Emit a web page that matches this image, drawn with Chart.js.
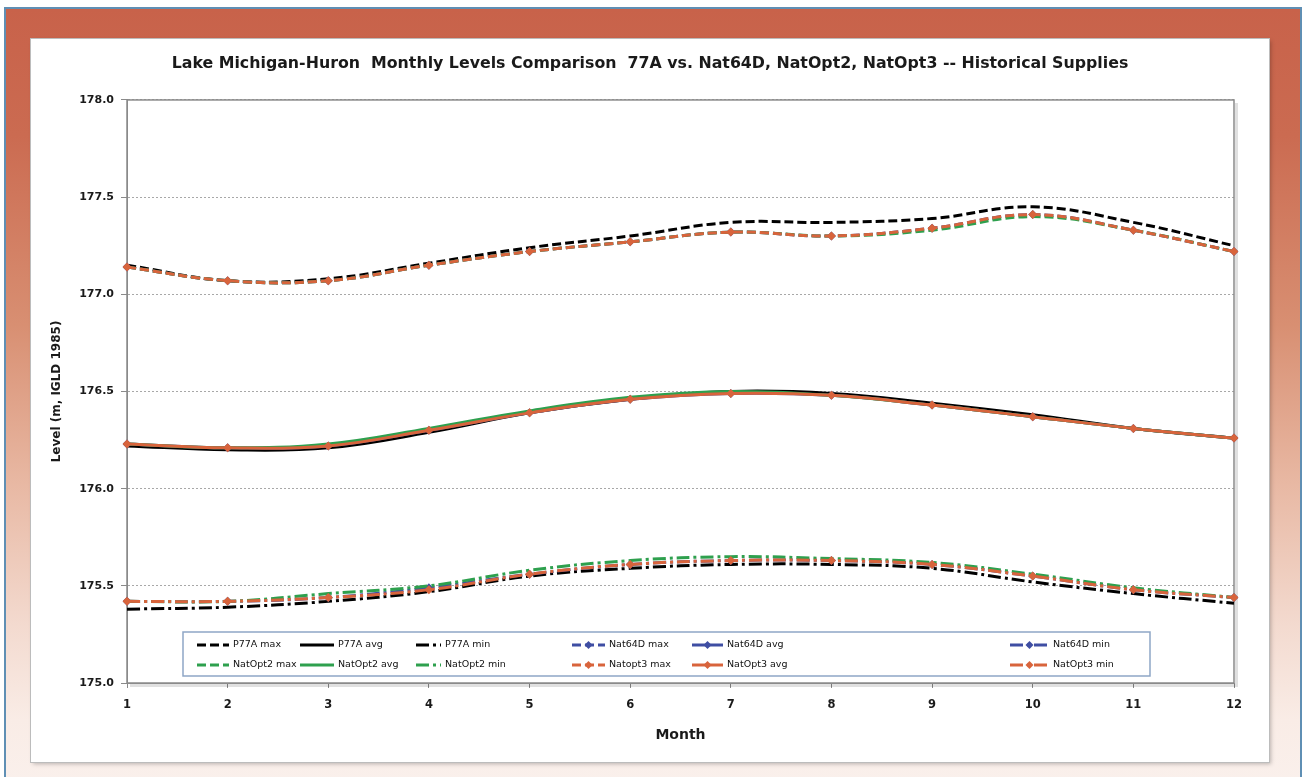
<!DOCTYPE html>
<html>
<head>
<meta charset="utf-8">
<script src="https://cdn.jsdelivr.net/npm/chart.js@4.4.0/dist/chart.umd.min.js"></script>
<style>
  html, body { margin: 0; padding: 0; background: #fff; width: 1304px; height: 777px; overflow: hidden; }
  #frame {
    position: absolute; left: 4px; top: 7px; width: 1294px; height: 790px;
    border: 2px solid #5f8fb4;
    background: linear-gradient(180deg, #c8624a 0%, #cb6b51 16%, #d88f72 40%, #e8b8a3 60%, #f3dacf 78%, #f9ece6 90%, #faf1ed 100%);
  }
  #panel {
    position: absolute; left: 31px; top: 39px; width: 1238px; height: 723px;
    background: #fff; outline: 1px solid #bcbcbc;
    box-shadow: 2px 2px 4px rgba(0,0,0,0.25);
  }
  canvas { display: block; }
</style>
</head>
<body>
<div id="frame"></div>
<div id="panel"><canvas id="levelsChart" width="1238" height="723"></canvas></div>
<script>
// months on the x axis
const months = ["1", "2", "3", "4", "5", "6", "7", "8", "9", "10", "11", "12"];

// lake levels (m, IGLD 1985)
const p77aMax   = [177.15, 177.07, 177.08, 177.16, 177.24, 177.30, 177.37, 177.37, 177.39, 177.45, 177.37, 177.25];
const p77aAvg   = [176.22, 176.20, 176.21, 176.29, 176.39, 176.46, 176.50, 176.49, 176.44, 176.38, 176.31, 176.26];
const p77aMin   = [175.38, 175.39, 175.42, 175.47, 175.55, 175.59, 175.61, 175.61, 175.59, 175.52, 175.46, 175.41];

const nat64dMax = [177.14, 177.07, 177.07, 177.15, 177.22, 177.27, 177.32, 177.30, 177.34, 177.41, 177.33, 177.22];
const nat64dAvg = [176.23, 176.21, 176.22, 176.30, 176.39, 176.46, 176.49, 176.48, 176.43, 176.37, 176.31, 176.26];
const nat64dMin = [175.42, 175.42, 175.44, 175.49, 175.56, 175.61, 175.63, 175.63, 175.61, 175.55, 175.48, 175.44];

const natOpt2Max = [177.14, 177.07, 177.07, 177.15, 177.22, 177.27, 177.32, 177.30, 177.33, 177.40, 177.33, 177.22];
const natOpt2Avg = [176.23, 176.21, 176.23, 176.31, 176.40, 176.47, 176.50, 176.48, 176.43, 176.37, 176.31, 176.26];
const natOpt2Min = [175.42, 175.42, 175.46, 175.50, 175.58, 175.63, 175.65, 175.64, 175.62, 175.56, 175.49, 175.44];

const natOpt3Max = [177.14, 177.07, 177.07, 177.15, 177.22, 177.27, 177.32, 177.30, 177.34, 177.41, 177.33, 177.22];
const natOpt3Avg = [176.23, 176.21, 176.22, 176.30, 176.39, 176.46, 176.49, 176.48, 176.43, 176.37, 176.31, 176.26];
const natOpt3Min = [175.42, 175.42, 175.44, 175.48, 175.56, 175.61, 175.63, 175.63, 175.61, 175.55, 175.48, 175.44];

// y axis range
const yMin = 175.0;
const yMax = 178.0;
const yStep = 0.5;

const BLACK = "#000000";
const BLUE = "#3f4ea3";
const GREEN = "#2ea04e";
const ORANGE = "#d8643c";

const DASH_MAX = [9, 4];
const DASH_MIN = [13, 4, 3, 4];

// label, data, colour, dash, marker
const series = [
    ["P77A max", p77aMax, BLACK, DASH_MAX, false],
    ["P77A avg", p77aAvg, BLACK, [], false],
    ["P77A min", p77aMin, BLACK, DASH_MIN, false],
    ["Nat64D max", nat64dMax, BLUE, DASH_MAX, true],
    ["Nat64D avg", nat64dAvg, BLUE, [], true],
    ["Nat64D min", nat64dMin, BLUE, DASH_MIN, true],
    ["NatOpt2 max", natOpt2Max, GREEN, DASH_MAX, false],
    ["NatOpt2 avg", natOpt2Avg, GREEN, [], false],
    ["NatOpt2 min", natOpt2Min, GREEN, DASH_MIN, false],
    ["Natopt3 max", natOpt3Max, ORANGE, DASH_MAX, true],
    ["NatOpt3 avg", natOpt3Avg, ORANGE, [], true],
    ["NatOpt3 min", natOpt3Min, ORANGE, DASH_MIN, true]
];

const datasets = series.map(([label, data, color, dash, marker], i) => ({
    label: label,
    data: data,
    borderColor: color,
    backgroundColor: color,
    borderWidth: 3,
    borderDash: dash,
    tension: 0.4,
    fill: false,
    pointStyle: "rectRot",
    pointRadius: marker ? 4.5 : 0,
    pointBorderWidth: 0,
    pointBackgroundColor: color,
    order: series.length - 1 - i   // later series on top, like Excel
}));

// gray frame around the plot area with a little shadow
const plotFrame = {
    id: "plotFrame",
    beforeDatasetsDraw(chart) {
        const { ctx, chartArea: a } = chart;
        ctx.save();
        ctx.strokeStyle = "rgba(0,0,0,0.12)";
        ctx.lineWidth = 3;
        ctx.beginPath();
        ctx.moveTo(a.right + 2.5, a.top + 3);
        ctx.lineTo(a.right + 2.5, a.bottom + 2.5);
        ctx.lineTo(a.left + 3, a.bottom + 2.5);
        ctx.stroke();
        ctx.strokeStyle = "#8a8a8a";
        ctx.lineWidth = 1.5;
        ctx.strokeRect(a.left, a.top, a.right - a.left, a.bottom - a.top);
        ctx.restore();
    }
};

// boxed legend inside the plot, two rows of six like the original
const boxLegend = {
    id: "boxLegend",
    afterDraw(chart, args, opts) {
        const { ctx, chartArea: a } = chart;
        const x0 = a.left + opts.left;
        const y0 = a.bottom - opts.bottom - opts.height;
        ctx.save();
        ctx.fillStyle = "#ffffff";
        ctx.fillRect(x0, y0, opts.width, opts.height);
        ctx.strokeStyle = "#8ea6c6";
        ctx.lineWidth = 1.5;
        ctx.strokeRect(x0, y0, opts.width, opts.height);
        ctx.font = opts.font;
        ctx.textBaseline = "middle";
        chart.data.datasets.forEach((ds, i) => {
            const col = i % 6;
            const row = Math.floor(i / 6);
            const lx = x0 + opts.lineX[col];
            const tx = x0 + opts.textX[col];
            const y = y0 + opts.rowY[row];
            ctx.strokeStyle = ds.borderColor;
            ctx.lineWidth = 3;
            ctx.setLineDash(ds.borderDash);
            ctx.beginPath();
            ctx.moveTo(lx, y);
            ctx.lineTo(tx - 4, y);
            ctx.stroke();
            ctx.setLineDash([]);
            if (ds.pointRadius > 0) {
                const mx = (lx + tx - 4) / 2, r = 4;
                ctx.fillStyle = ds.borderColor;
                ctx.beginPath();
                ctx.moveTo(mx, y - r);
                ctx.lineTo(mx + r, y);
                ctx.lineTo(mx, y + r);
                ctx.lineTo(mx - r, y);
                ctx.closePath();
                ctx.fill();
            }
            ctx.fillStyle = "#111";
            ctx.fillText(ds.label, tx, y);
        });
        ctx.restore();
    }
};

new Chart(document.getElementById("levelsChart"), {
    type: "line",
    data: { labels: months, datasets: datasets },
    plugins: [plotFrame, boxLegend],
    options: {
        responsive: false,
        animation: false,
        devicePixelRatio: 1,
        layout: { padding: 0 },
        plugins: {
            legend: { display: false },
            tooltip: { enabled: false },
            title: {
                display: true,
                text: "Lake Michigan-Huron  Monthly Levels Comparison  77A vs. Nat64D, NatOpt2, NatOpt3 -- Historical Supplies",
                color: "#1a1a1a",
                font: { family: "'DejaVu Sans'", size: 15.8, weight: "bold" },
                padding: { top: 15.5, bottom: 26.5 }
            },
            boxLegend: {
                left: 56, bottom: 7, width: 967, height: 44,
                lineX: [14, 117, 233, 389, 509, 827],
                textX: [50, 155, 262, 426, 544, 870],
                rowY: [13, 33],
                font: "9.5px 'DejaVu Sans'"
            }
        },
        scales: {
            x: {
                offset: false,
                afterFit: s => { s.height = 79; },
                grid: { display: true, drawOnChartArea: false, tickLength: 5, color: "#8a8a8a" },
                border: { color: "#8a8a8a" },
                ticks: {
                    color: "#1a1a1a", padding: 10, maxRotation: 0,
                    font: { family: "'DejaVu Sans'", size: 11.5, weight: "bold" }
                },
                title: {
                    display: true, text: "Month", color: "#1a1a1a",
                    font: { family: "'DejaVu Sans'", size: 14, weight: "bold" },
                    padding: { top: 0, bottom: 18.5 }
                }
            },
            y: {
                min: yMin,
                max: yMax,
                afterFit: s => { s.width = 96; },
                grid: { color: "#a8a8a8", lineWidth: 1, tickLength: 6, tickColor: "#8a8a8a" },
                border: { color: "#8a8a8a", dash: [2, 2] },
                ticks: {
                    stepSize: yStep, color: "#1a1a1a", padding: 7,
                    font: { family: "'DejaVu Sans'", size: 11, weight: "bold" },
                    callback: v => Number(v).toFixed(1)
                },
                title: {
                    display: true, text: "Level (m, IGLD 1985)", color: "#1a1a1a",
                    font: { family: "'DejaVu Sans'", size: 12, weight: "bold" },
                    padding: { top: 19, bottom: 0 }
                }
            },
            // empty right-hand margin so the title centres over the whole panel
            yRight: {
                position: "right",
                min: yMin,
                max: yMax,
                afterFit: s => { s.width = 35; },
                grid: { display: false, drawOnChartArea: false },
                border: { display: false },
                ticks: { display: false }
            }
        }
    }
});
</script>
</body>
</html>
